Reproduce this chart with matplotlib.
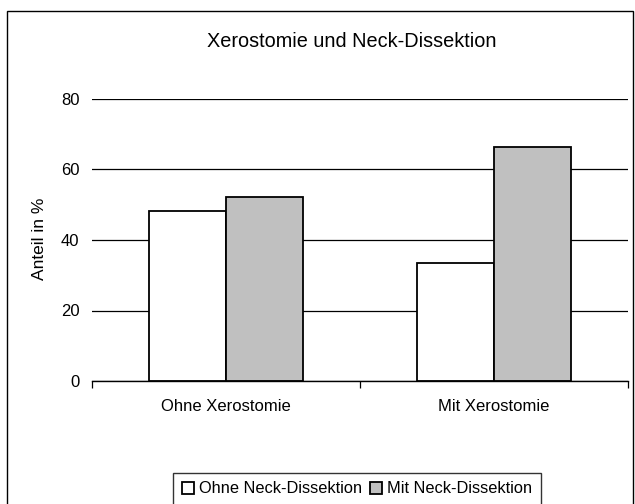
import matplotlib
matplotlib.use("Agg")
import matplotlib.pyplot as plt
from matplotlib.patches import Rectangle
import numpy as np

plt.rcParams['font.family'] = ['Liberation Sans', 'DejaVu Sans']

categories = ["Ohne Xerostomie", "Mit Xerostomie"]
series_names = ["Ohne Neck-Dissektion", "Mit Neck-Dissektion"]
ohne_nd = [48.2, 33.6]
mit_nd = [52.2, 66.5]
yticks = [0, 20, 40, 60, 80]

fig = plt.figure(figsize=(6.35, 5.04), dpi=100)
ax = fig.add_axes([92 / 635, 1 - 381 / 504, 536 / 635, 282 / 504])

x = np.arange(len(categories))
w = 0.286
ax.bar(x - w / 2, ohne_nd, w, color="white", edgecolor="black", linewidth=1.3,
       label=series_names[0], zorder=3)
ax.bar(x + w / 2, mit_nd, w, color="#c0c0c0", edgecolor="black", linewidth=1.3,
       label=series_names[1], zorder=3)

ax.set_xlim(-0.5, 1.5)
ax.set_ylim(0, 80)
ax.set_yticks(yticks)
ax.yaxis.grid(True, color="black", linewidth=0.9, zorder=0)
ax.tick_params(axis="y", length=0, labelsize=12, pad=9)

ax.set_xticks(x)
ax.set_xticklabels(categories, fontsize=12)
ax.set_xticks([-0.5, 0.5, 1.5], minor=True)
ax.tick_params(axis="x", which="major", length=0, pad=13)
ax.tick_params(axis="x", which="minor", length=5, width=0.9, direction="out")

for s in ["top", "right", "left"]:
    ax.spines[s].set_visible(False)
ax.spines["bottom"].set_linewidth(1.0)
ax.spines["bottom"].set_zorder(4)

ax.set_ylabel("Anteil in %", fontsize=12.5, va="center")
ax.yaxis.set_label_coords(40 / 635, 1 - 239 / 504, transform=fig.transFigure)

fig.suptitle("Xerostomie und Neck-Dissektion", fontsize=14.3, x=352 / 635, y=1 - 32 / 504, va="top")

# outer chart border
fig.patches.append(Rectangle((7 / 635, -0.05), 626 / 635, 1.05 - 11 / 504,
                             transform=fig.transFigure, fill=False,
                             edgecolor="black", linewidth=1.0))

leg = fig.legend(loc="upper center", bbox_to_anchor=(357 / 635, 1 - 465 / 504),
                 ncol=2, fontsize=11.8, frameon=True, fancybox=False,
                 edgecolor="black", handlelength=0.75, handleheight=0.75,
                 handletextpad=0.3, columnspacing=0.5, borderpad=0.5)
leg.get_frame().set_linewidth(1.0)

fig.savefig("out.png", dpi=100)
